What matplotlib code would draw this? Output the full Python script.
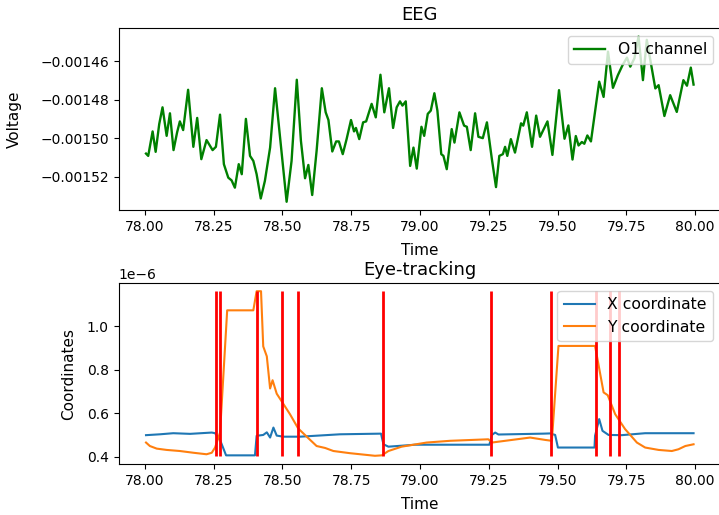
import numpy as np
import matplotlib
matplotlib.use("Agg")
import matplotlib.pyplot as plt

# --- EEG (O1 channel) ---
eeg_t = [78.004, 78.012, 78.028, 78.039, 78.052, 78.064, 78.079, 78.091, 78.104, 78.117,
         78.127, 78.139, 78.157, 78.176, 78.190, 78.205, 78.224, 78.246, 78.258, 78.273,
         78.287, 78.303, 78.315, 78.327, 78.341, 78.352, 78.367, 78.382, 78.394, 78.406,
         78.421, 78.436, 78.455, 78.473, 78.515, 78.533, 78.552, 78.567, 78.582, 78.594,
         78.608, 78.624, 78.643, 78.657, 78.667, 78.681, 78.695, 78.705, 78.719, 78.733,
         78.749, 78.760, 78.767, 78.779, 78.793, 78.804, 78.824, 78.839, 78.856, 78.870,
         78.887, 78.902, 78.915, 78.927, 78.936, 78.948, 78.964, 78.976, 78.988, 79.005,
         79.015, 79.028, 79.039, 79.052, 79.063, 79.077, 79.085, 79.097, 79.115, 79.125,
         79.143, 79.160, 79.170, 79.184, 79.200, 79.212, 79.228, 79.243, 79.261, 79.276,
         79.288, 79.301, 79.309, 79.317, 79.330, 79.345, 79.367, 79.375, 79.388, 79.407,
         79.422, 79.436, 79.463, 79.481, 79.505, 79.525, 79.539, 79.554, 79.566, 79.576,
         79.588, 79.597, 79.608, 79.621, 79.636, 79.651, 79.667, 79.683, 79.701, 79.719,
         79.736, 79.752, 79.764, 79.779, 79.794, 79.810, 79.824, 79.840, 79.855, 79.867,
         79.888, 79.909, 79.933, 79.957, 79.970, 79.984, 79.994]
eeg_v = [-150.80, -150.92, -149.65, -150.71, -149.27, -148.40, -149.88, -148.71, -150.62, -149.70,
         -149.13, -149.58, -147.49, -150.45, -148.95, -151.09, -150.10, -150.62, -150.45, -148.78,
         -151.35, -152.05, -152.19, -152.57, -151.35, -151.87, -149.00, -150.92, -151.18, -151.87,
         -153.13, -152.22, -150.49, -147.41, -153.30, -151.18, -146.97, -150.14, -152.08, -151.39,
         -152.95, -150.66, -147.41, -148.66, -149.06, -150.69, -150.17, -150.17, -150.83, -150.05,
         -149.06, -149.65, -149.47, -150.05, -149.18, -149.13, -148.22, -148.92, -146.71, -148.66,
         -147.41, -149.47, -148.40, -148.09, -148.31, -148.09, -151.44, -150.49, -151.58, -149.41,
         -149.88, -148.74, -148.57, -147.67, -148.57, -150.83, -150.92, -151.61, -149.53, -150.23,
         -148.66, -149.35, -149.41, -150.62, -148.71, -149.93, -150.00, -149.18, -151.09, -152.54,
         -150.92, -150.83, -150.45, -150.92, -150.05, -150.75, -149.23, -149.35, -148.66, -150.45,
         -148.83, -149.93, -149.13, -150.87, -147.51, -150.03, -149.34, -151.11, -149.89, -150.38,
         -150.20, -150.29, -149.86, -150.17, -148.64, -147.07, -147.86, -145.51, -147.39, -146.73,
         -146.21, -145.82, -146.29, -145.86, -144.73, -146.99, -144.90, -146.21, -147.42, -147.25,
         -148.85, -147.77, -148.64, -146.99, -147.28, -146.34, -147.22]
eeg_v = np.array(eeg_v) * 1e-5

# --- Eye-tracking (values in units of 1e-6) ---
x_t = [78.004, 78.055, 78.103, 78.164, 78.243, 78.255, 78.273, 78.295, 78.400, 78.406,
       78.430, 78.443, 78.455, 78.467, 78.479, 78.503, 78.564, 78.709, 78.858, 78.867,
       78.885, 78.982, 79.085, 79.252, 79.261, 79.273, 79.285, 79.448, 79.473, 79.491,
       79.501, 79.634, 79.636, 79.651, 79.663, 79.685, 79.733, 79.818, 79.994]
x_coord = [0.499, 0.503, 0.508, 0.505, 0.511, 0.508, 0.477, 0.406, 0.406, 0.496,
           0.500, 0.512, 0.488, 0.534, 0.497, 0.492, 0.492, 0.503, 0.506, 0.457,
           0.446, 0.455, 0.455, 0.455, 0.500, 0.511, 0.502, 0.506, 0.507, 0.500,
           0.442, 0.442, 0.496, 0.573, 0.519, 0.500, 0.499, 0.508, 0.508]

y_t = [78.004, 78.018, 78.043, 78.079, 78.127, 78.176, 78.224, 78.243, 78.255, 78.273,
       78.299, 78.394, 78.406, 78.422, 78.430, 78.443, 78.455, 78.464, 78.479, 78.497,
       78.527, 78.557, 78.594, 78.624, 78.655, 78.685, 78.745, 78.836, 78.861, 78.885,
       78.933, 79.024, 79.109, 79.248, 79.261, 79.400, 79.455, 79.479, 79.503, 79.636,
       79.667, 79.682, 79.709, 79.745, 79.788, 79.818, 79.867, 79.915, 79.939, 79.964,
       79.994]
y_coord = [0.465, 0.449, 0.437, 0.431, 0.426, 0.418, 0.411, 0.418, 0.442, 0.511,
           1.074, 1.074, 1.162, 1.162, 0.908, 0.862, 0.714, 0.752, 0.690, 0.655,
           0.596, 0.530, 0.485, 0.449, 0.440, 0.426, 0.416, 0.404, 0.406, 0.426,
           0.446, 0.465, 0.473, 0.480, 0.465, 0.488, 0.477, 0.473, 0.910, 0.910,
           0.696, 0.683, 0.596, 0.527, 0.465, 0.442, 0.431, 0.426, 0.434, 0.449,
           0.457]
x_coord = np.array(x_coord) * 1e-6
y_coord = np.array(y_coord) * 1e-6

# event markers
events = [78.257, 78.274, 78.406, 78.498, 78.555, 78.867, 79.256, 79.475, 79.640, 79.691, 79.724]

fig = plt.figure(figsize=(7.19, 5.15), dpi=100)
ax1 = fig.add_axes([0.165, 0.5922, 0.8377, 0.3528])
ax2 = fig.add_axes([0.165, 0.0990, 0.8377, 0.3515])

ax1.plot(eeg_t, eeg_v, color='green', lw=1.7, label='O1 channel')
ax1.set_title('EEG', fontsize=13)
ax1.set_xlabel('Time', fontsize=11, labelpad=7)
ax1.set_ylabel('Voltage', fontsize=11, labelpad=13)
ax1.legend(loc='upper right', fontsize=11.25)

ax2.plot(x_t, x_coord, label='X coordinate')
ax2.plot(y_t, y_coord, label='Y coordinate')
lo = min(x_coord.min(), y_coord.min())
hi = max(x_coord.max(), y_coord.max())
ax2.vlines(events, lo, hi, color='red', lw=2)
ax2.set_title('Eye-tracking', fontsize=13)
ax2.set_xlabel('Time', fontsize=11, labelpad=7)
ax2.set_ylabel('Coordinates', fontsize=11, labelpad=8)
ax2.legend(loc='upper right', fontsize=11.25)

plt.savefig('out.png', dpi=100)
